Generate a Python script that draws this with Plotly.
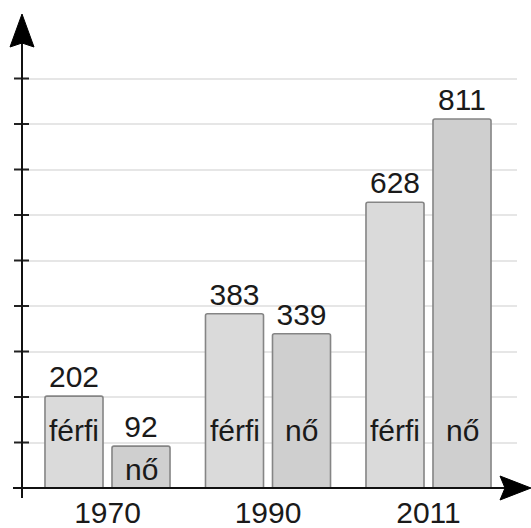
import plotly.graph_objects as go

years = ["1970", "1990", "2011"]
ferfi = [202, 383, 628]
no = [92, 339, 811]
series_names = ["férfi", "nő"]
grid_vals = [100, 200, 300, 400, 500, 600, 700, 800, 900]

W, H = 531, 528
L, R, T, B = 22, 14, 15, 40
pw, ph = W - L - R, H - T - B
ymax = ph / 0.455


def px(x):
    return (x - L) / pw


def py(y):
    return (H - B - y) / ph


FONT = "Liberation Sans, Arial, sans-serif"
fig = go.Figure()
for name, vals, col in [(series_names[0], ferfi, "#dadada"), (series_names[1], no, "#cfcfcf")]:
    fig.add_trace(go.Bar(
        x=years, y=vals, name=name,
        marker=dict(color=col, line=dict(color="#858585", width=1.6), cornerradius=2),
        text=[str(v) for v in vals], textposition="outside",
        textfont=dict(size=30, color="#1a1a1a", family=FONT),
        constraintext="none", cliponaxis=False,
    ))

# in-bar category labels
for name, vals, shift in [(series_names[0], ferfi, -33.5), (series_names[1], no, 33.5)]:
    for i, v in enumerate(vals):
        ylab = 127 if v >= 150 else v * 0.44
        fig.add_annotation(x=i, y=ylab, xref="x", yref="y", text=name, showarrow=False,
                           xshift=shift, font=dict(size=30, color="#1a1a1a", family=FONT))

shapes = []
# y-axis tick marks crossing the axis
for v in grid_vals:
    shapes.append(dict(type="line", xref="paper", yref="y", x0=px(14), x1=px(29),
                       y0=v, y1=v, line=dict(color="#222", width=2)))
# y axis line + arrow
shapes.append(dict(type="line", xref="paper", yref="paper", x0=px(22), x1=px(22),
                   y0=py(498), y1=py(40), line=dict(color="#111", width=2)))
shapes.append(dict(type="path", xref="paper", yref="paper",
                   path=f"M {px(22)},{py(14)} L {px(10)},{py(47)} L {px(22)},{py(43)} L {px(34)},{py(47)} Z",
                   fillcolor="#000", line=dict(color="#000", width=1)))
# x axis line + arrow
shapes.append(dict(type="line", xref="paper", yref="paper", x0=px(13), x1=px(510),
                   y0=py(488), y1=py(488), line=dict(color="#111", width=2)))
shapes.append(dict(type="path", xref="paper", yref="paper",
                   path=f"M {px(531)},{py(488)} L {px(500)},{py(476)} L {px(505)},{py(488)} L {px(500)},{py(500)} Z",
                   fillcolor="#000", line=dict(color="#000", width=1)))

fig.update_layout(
    template="none",
    width=W, height=H, margin=dict(l=L, r=R, t=T, b=B, pad=0),
    paper_bgcolor="white", plot_bgcolor="white",
    barmode="group", bargap=0.165, bargroupgap=0.134,
    showlegend=False, shapes=shapes,
    font=dict(family=FONT, color="#1a1a1a"),
    xaxis=dict(type="category", range=[-(107.5 - L) / 160.5, (517 - 107.5) / 160.5],
               showline=False, showgrid=False, ticks="", zeroline=False, automargin=False,
               ticklabelstandoff=4,
               tickfont=dict(size=30, color="#1a1a1a", family=FONT)),
    yaxis=dict(range=[0, ymax], tickvals=grid_vals, showticklabels=False, ticks="",
               showgrid=True, gridcolor="#e6e6e6", gridwidth=2, automargin=False,
               zeroline=False, showline=False),
)
fig.write_html("out.html", config={"displayModeBar": False},
               post_script="document.body.style.margin='0';")
